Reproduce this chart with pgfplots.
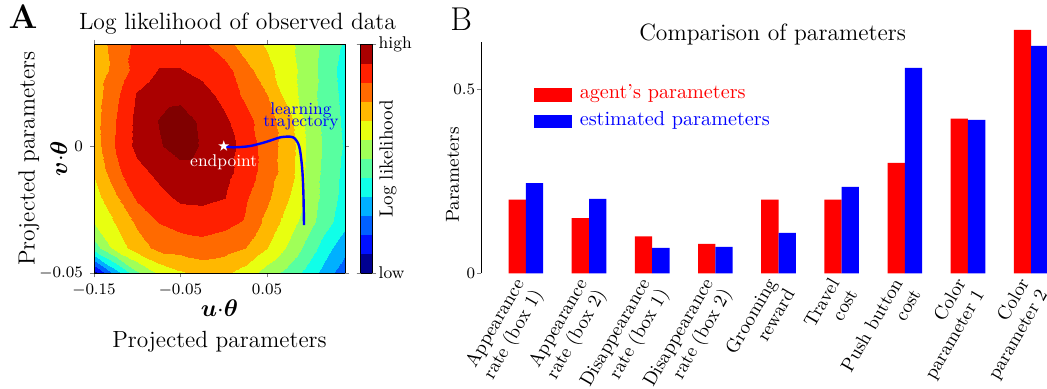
\documentclass[border=0pt]{standalone}
\usepackage{pgfplots}
\pgfplotsset{compat=1.18}
\usepackage{pgfplotstable}
\usepackage{bm}
\newcommand{\fs}[2]{\fontsize{#1}{#2}\selectfont}

\pgfdeclareplotmark{fstar}{%
 \pgfpathmoveto{\pgfpointpolar{90}{\pgfplotmarksize}}%
 \pgfpathlineto{\pgfpointpolar{126}{0.382\pgfplotmarksize}}%
 \pgfpathlineto{\pgfpointpolar{162}{\pgfplotmarksize}}%
 \pgfpathlineto{\pgfpointpolar{198}{0.382\pgfplotmarksize}}%
 \pgfpathlineto{\pgfpointpolar{234}{\pgfplotmarksize}}%
 \pgfpathlineto{\pgfpointpolar{270}{0.382\pgfplotmarksize}}%
 \pgfpathlineto{\pgfpointpolar{306}{\pgfplotmarksize}}%
 \pgfpathlineto{\pgfpointpolar{342}{0.382\pgfplotmarksize}}%
 \pgfpathlineto{\pgfpointpolar{18}{\pgfplotmarksize}}%
 \pgfpathlineto{\pgfpointpolar{54}{0.382\pgfplotmarksize}}%
 \pgfpathclose\pgfusepathqfill}

\pgfplotstableread{
x y z
-0.15 -0.05 0.5
-0.125 -0.05 3.5
-0.1 -0.05 5.8
-0.075 -0.05 7.2
-0.05 -0.05 7.85
-0.025 -0.05 8.3
0 -0.05 8.2
0.025 -0.05 7.6
0.05 -0.05 6.5
0.075 -0.05 5.6
0.1 -0.05 4.5
0.125 -0.05 3.1
0.15 -0.05 2.0
-0.15 -0.04 5.5
-0.125 -0.04 7.4
-0.1 -0.04 8.5
-0.075 -0.04 9.3
-0.05 -0.04 9.4
-0.025 -0.04 9.6
0 -0.04 9.4
0.025 -0.04 9.02
0.05 -0.04 8.02
0.075 -0.04 6.8
0.1 -0.04 5.5
0.125 -0.04 4.02
0.15 -0.04 2.8
-0.15 -0.03 7.1
-0.125 -0.03 8.1
-0.1 -0.03 9.2
-0.075 -0.03 10.05
-0.05 -0.03 10.4
-0.025 -0.03 10.5
0 -0.03 10.3
0.025 -0.03 9.9
0.05 -0.03 8.7
0.075 -0.03 7.5
0.1 -0.03 6.3
0.125 -0.03 5.05
0.15 -0.03 3.9
-0.15 -0.02 7.6
-0.125 -0.02 8.9
-0.1 -0.02 10.2
-0.075 -0.02 10.7
-0.05 -0.02 11.2
-0.025 -0.02 11.25
0 -0.02 11.05
0.025 -0.02 10.15
0.05 -0.02 9.2
0.075 -0.02 8.02
0.1 -0.02 6.5
0.125 -0.02 5.3
0.15 -0.02 4.2
-0.15 -0.01 8.1
-0.125 -0.01 9.8
-0.1 -0.01 10.7
-0.075 -0.01 11.3
-0.05 -0.01 11.6
-0.025 -0.01 11.55
0 -0.01 11.35
0.025 -0.01 10.6
0.05 -0.01 9.5
0.075 -0.01 8.5
0.1 -0.01 6.5
0.125 -0.01 5.4
0.15 -0.01 4.3
-0.15 0 8.5
-0.125 0 10.1
-0.1 0 11.3
-0.075 0 11.9
-0.05 0 12.5
-0.025 0 11.9
0 0 11.35
0.025 0 10.75
0.05 0 9.4
0.075 0 8.6
0.1 0 6.6
0.125 0 5.5
0.15 0 4.5
-0.15 0.01 8.6
-0.125 0.01 10.02
-0.1 0.01 11.3
-0.075 0.01 12.05
-0.05 0.01 12.5
-0.025 0.01 11.8
0 0.01 11.2
0.025 0.01 10.4
0.05 0.01 9.4
0.075 0.01 8.4
0.1 0.01 6.5
0.125 0.01 5.4
0.15 0.01 4.4
-0.15 0.02 8.5
-0.125 0.02 9.8
-0.1 0.02 11.1
-0.075 0.02 11.6
-0.05 0.02 11.7
-0.025 0.02 11.4
0 0.02 10.7
0.025 0.02 9.8
0.05 0.02 9.02
0.075 0.02 7.5
0.1 0.02 6.3
0.125 0.02 5.3
0.15 0.02 4.3
-0.15 0.03 8.4
-0.125 0.03 9.3
-0.1 0.03 10.4
-0.075 0.03 11.05
-0.05 0.03 11.05
-0.025 0.03 10.7
0 0.03 10.4
0.025 0.03 9.4
0.05 0.03 8.3
0.075 0.03 7.4
0.1 0.03 6.4
0.125 0.03 5.2
0.15 0.03 4.2
-0.15 0.04 8.3
-0.125 0.04 9.5
-0.1 0.04 10.2
-0.075 0.04 10.5
-0.05 0.04 10.5
-0.025 0.04 10.2
0 0.04 9.5
0.025 0.04 8.5
0.05 0.04 7.9
0.075 0.04 7.2
0.1 0.04 6.5
0.125 0.04 5.4
0.15 0.04 4.5
}\gridtable

\begin{document}
\begin{tikzpicture}
\path[use as bounding box] (0,0) rectangle (523.5pt,-194pt);

% ---------------- Panel A ----------------
\begin{axis}[
  at={(47pt,-136.5pt)}, anchor=south west,
  scale only axis, width=125.5pt, height=114.5pt,
  view={0}{90},
  xmin=-0.15, xmax=0.1402, ymin=-0.05, ymax=0.0402,
  axis on top,
  scaled ticks=false,
  colormap={jetc}{rgb255=(0,0,144) rgb255=(0,16,255) rgb255=(0,96,255) rgb255=(0,176,255)
    rgb255=(16,255,232) rgb255=(88,255,160) rgb255=(160,255,88) rgb255=(232,255,16)
    rgb255=(255,184,0) rgb255=(255,106,0) rgb255=(255,32,0) rgb255=(170,0,0)
    rgb255=(128,0,0)},
  colormap access=piecewise constant,
  point meta min=0, point meta max=13,
  xtick={-0.15,-0.05,0.05}, xticklabels={$-0.15$,$-0.05$,$0.05$},
  ytick={-0.05,0}, yticklabels={$-0.05$,$0$},
  tick align=outside, major tick length=2pt,
  tick label style={font=\fs{8.3}{10}},
  every axis x label/.style={at={(axis description cs:0.5,-0.1135)}, anchor=north,
     align=center, inner sep=0pt, font=\fs{11.7}{15.8}},
  every axis y label/.style={at={(axis description cs:-0.105,0.5)}, rotate=90, anchor=south,
     align=center, inner sep=0pt, font=\fs{11.7}{16.3}},
  xlabel={$\bm{u}{\cdot}\bm{\theta}$\\Projected parameters},
  ylabel={Projected parameters\\$\bm{v}{\cdot}\bm{\theta}$},
  colorbar,
  colorbar style={
    at={(parent axis.north east)}, anchor=north west, xshift=-0.68pt,
    width=5.8pt,
    ymin=0, ymax=12,
    ytick={0,12}, yticklabels={low,high},
    yticklabel pos=right,
    tick align=outside, major tick length=2pt,
    yticklabel style={font=\fs{8.5}{10}, inner sep=1pt},
    ylabel={Log likelihood},
    ylabel style={at={(axis description cs:1.58,0.5)}, rotate=0, anchor=north, inner sep=0pt, font=\fs{9.5}{11}},
  },
]
\addplot3[surf, shader=interp, mesh/rows=10, mesh/cols=13] table[x=x,y=y,z=z] {\gridtable};
\addplot3[blue, line width=1.2pt, smooth] coordinates {
 (0,0,13) (0.011,-0.0005,13) (0.0303,0.0,13) (0.0496,0.0017,13) (0.065,0.0034,13)
 (0.0766,0.0037,13) (0.0824,0.0029,13) (0.0874,-0.0003,13) (0.0905,-0.0081,13)
 (0.092,-0.0173,13) (0.0928,-0.0311,13)};
\addplot3[only marks, mark=fstar, mark size=2.9pt, mark options={fill=white, draw=none}] coordinates {(0,0,13)};
\node[white, font=\fs{8.5}{10}, anchor=base, inner sep=0pt] at (axis cs:0,-0.0079,13) {endpoint};
\node[blue, font=\fs{8.5}{10}, anchor=base, inner sep=0pt] at (axis cs:0.0893,0.0126,13) {learning};
\node[blue, font=\fs{8.5}{10}, anchor=base, inner sep=0pt] at (axis cs:0.0893,0.0079,13) {trajectory};
\end{axis}

\node[anchor=base west, inner sep=0pt, font=\fs{17}{19}\bfseries] at (4.15pt,-14.15pt) {A};
\node[anchor=base, inner sep=0pt, font=\fs{11.8}{14}] at (118.75pt,-14.65pt) {Log likelihood of observed data};

% ---------------- Panel B ----------------
\begin{axis}[
  at={(240.7pt,-136.65pt)}, anchor=south west,
  scale only axis, width=297.1pt, height=115.8pt,
  xmin=-0.7045, xmax=8.7045, ymin=0, ymax=0.629,
  clip=false,
  axis lines*=left, axis line style={-},
  x axis line style={draw=none},
  xtick={0,...,8},
  xticklabels={{Appearance\\rate (box 1)},{Appearance\\rate (box 2)},{Disappearance\\rate (box 1)},{Disappearance\\rate (box 2)},{Grooming\\reward},{Travel\\cost},{Push button\\cost},{Color\\parameter 1},{Color\\parameter 2}},
  xtick style={draw=none},
  xticklabel style={xshift=-7pt, yshift=2pt, rotate=60, anchor=north east, align=right, font=\fs{9.5}{10.5}, inner sep=1pt},
  ytick={0,0.5}, yticklabels={$0$,$0.5$},
  tick align=outside, major tick length=2pt,
  yticklabel style={font=\fs{8}{9}, inner sep=1pt},
  every axis y label/.style={at={(axis description cs:-0.0485,0.424)}, rotate=90, anchor=center, inner sep=0pt, font=\fs{9.4}{11}},
  ylabel={Parameters},
  legend style={at={(axis description cs:0.0885,0.8065)}, anchor=north west, draw=none, fill=none,
     font=\fs{10.1}{11}, inner sep=0pt, row sep=5.2pt, column sep=3.9pt,
     nodes={inner sep=0pt, text height=6pt, text depth=2pt}},
  legend cell align=left,
]
\addplot[ybar, fill=red, draw=none, bar width=8.65pt, bar shift=-4.33pt,
  legend image code/.code={\fill[red] (0pt,-3.33pt) rectangle (18.8pt,3.33pt);}]
  coordinates {(0,0.2) (1,0.15) (2,0.1) (3,0.08) (4,0.2) (5,0.2) (6,0.3) (7,0.42) (8,0.661)};
\addlegendentry{\textcolor{red}{agent's parameters}}
\addplot[ybar, fill=blue, draw=none, bar width=8.65pt, bar shift=4.33pt,
  legend image code/.code={\fill[blue] (0pt,-3.33pt) rectangle (18.8pt,3.33pt);}]
  coordinates {(0,0.245) (1,0.202) (2,0.069) (3,0.072) (4,0.11) (5,0.235) (6,0.558) (7,0.417) (8,0.618)};
\addlegendentry{\textcolor{blue}{estimated parameters}}
\end{axis}

\node[anchor=base west, inner sep=0pt, font=\fs{16.5}{19}] at (225pt,-15pt) {B};
\node[anchor=base, inner sep=0pt, font=\fs{11.8}{14}] at (386.3pt,-20.35pt) {Comparison of parameters};
\end{tikzpicture}
\end{document}
